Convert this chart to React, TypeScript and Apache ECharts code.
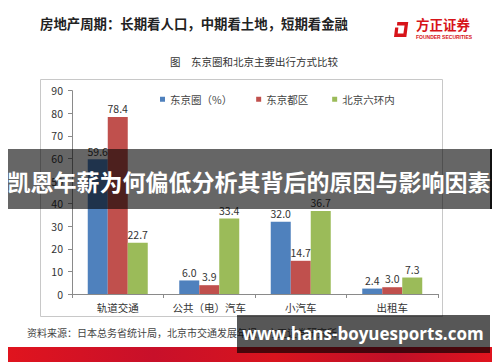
import React, { useEffect, useRef } from "react";
import * as echarts from "echarts";

const categories = ["轨道交通", "公共（电）汽车", "小汽车", "出租车"];
const seriesNames = ["东京圈（%）", "东京都区", "北京六环内"];
const tokyoMetro = [59.6, 6.0, 32.0, 2.4];
const tokyoWards = [78.4, 3.9, 14.7, 3.0];
const beijingRing6 = [22.7, 33.4, 36.7, 7.3];
const yMin = 0;
const yMax = 90;
const yInterval = 10;

const pageTitle = "房地产周期：长期看人口，中期看土地，短期看金融";
const chartTitle = "图　东京圈和北京主要出行方式比较";
const sourceText = "资料来源：日本总务省统计局，北京市交通发展年报，方正证券研究所";
const bannerText = "凯恩年薪为何偏低分析其背后的原因与影响因素";
const urlText = "www.hans-boyuesports.com";
const logoText = "方正证券";
const logoSub = "FOUNDER SECURITIES";

const colors = ["#4F81BD", "#C0504D", "#9BBB59"];
const CJK = "'Noto Sans CJK SC', 'Noto Sans', sans-serif";

const logoPath =
  "M3.5 0 L15 0 L13 15 L0 15 L1.2 5.5 L4.6 5.5 L3.9 11.4 L9.9 11.4 L11.1 3.4 L3.1 3.4 Z";

let registered = false;

export default function App() {
  const ref = useRef<HTMLDivElement>(null);
  useEffect(() => {
    if (!ref.current) return;
    if (!registered) {
      echarts.graphic.registerShape("logo", echarts.graphic.extendPath(logoPath, {}));
      registered = true;
    }
    const chart = echarts.init(ref.current, null, { renderer: "svg" });
    const data = [tokyoMetro, tokyoWards, beijingRing6];
    chart.setOption({
      animation: false,
      backgroundColor: "#ffffff",
      textStyle: { fontFamily: CJK },
      grid: { left: 72, right: 62, top: 90.7, bottom: 68 },
      legend: {
        left: 155,
        top: 89,
        itemWidth: 5,
        itemHeight: 5,
        itemGap: 24,
        icon: "rect",
        textStyle: { fontSize: 10.5, color: "#444", fontFamily: CJK },
        data: seriesNames,
      },
      xAxis: {
        type: "category",
        data: categories,
        axisLine: { lineStyle: { color: "#8a8a8a" } },
        axisTick: { show: true, length: 4, lineStyle: { color: "#8a8a8a" } },
        axisLabel: { interval: 0, fontSize: 10.5, color: "#333", margin: 8, fontFamily: CJK },
      },
      yAxis: {
        type: "value",
        min: yMin,
        max: yMax,
        interval: yInterval,
        splitLine: { show: false },
        axisLine: { show: true, lineStyle: { color: "#8a8a8a" } },
        axisTick: { show: true, length: 4, lineStyle: { color: "#8a8a8a" } },
        axisLabel: { fontSize: 10.5, color: "#333", margin: 9, fontFamily: CJK },
      },
      series: seriesNames.map((name, i) => ({
        name,
        type: "bar",
        data: data[i],
        barWidth: 20,
        barGap: "0%",
        itemStyle: { color: colors[i] },
        label: {
          show: true,
          position: "top",
          distance: 3,
          fontSize: 10.5,
          color: "#333",
          fontFamily: CJK,
          formatter: (p: any) => Number(p.value).toFixed(1),
        },
      })),
      graphic: [
        {
          type: "text",
          left: 40,
          top: 16,
          z: 10,
          style: { text: pageTitle, fontSize: 13.4, fontWeight: "bold", fill: "#222", fontFamily: CJK },
        },
        {
          type: "logo",
          x: 394,
          y: 22,
          scaleX: 0.95,
          scaleY: 1,
          z: 10,
          style: { fill: "#D7141A" },
        },
        {
          type: "text",
          left: 416,
          top: 17,
          z: 10,
          style: { text: logoText, fontSize: 13.5, fontWeight: "bold", fill: "#D7141A", fontFamily: CJK },
        },
        {
          type: "text",
          left: 416,
          top: 34,
          z: 10,
          style: { text: logoSub, fontSize: 5, fontWeight: "bold", fill: "#D7141A", fontFamily: "'Liberation Sans', sans-serif" },
        },
        {
          type: "text",
          left: 170,
          top: 56,
          z: 10,
          style: { text: chartTitle, fontSize: 10.5, fill: "#333", fontFamily: CJK },
        },
        {
          type: "rect",
          z: -1,
          shape: { x: 40.5, y: 79.5, width: 402, height: 237 },
          style: { fill: "none", stroke: "#c8c8c8", lineWidth: 1 },
        },
        {
          type: "text",
          left: 27,
          top: 327,
          z: 10,
          style: { text: sourceText, fontSize: 10, fill: "#444", fontFamily: CJK },
        },
        {
          type: "rect",
          z: 20,
          shape: { x: 8, y: 347, width: 484, height: 15 },
          style: {
            fill: new echarts.graphic.LinearGradient(0, 0, 1, 0, [
              { offset: 0, color: "#E0141E" },
              { offset: 0.3, color: "#C8102A" },
              { offset: 0.55, color: "#D8141E" },
              { offset: 0.8, color: "#C01028" },
              { offset: 1, color: "#E0141E" },
            ]),
          },
        },
        {
          type: "rect",
          z: 100,
          shape: { x: 8, y: 149, width: 482, height: 60 },
          style: { fill: "rgba(0,0,0,0.6)" },
        },
        {
          type: "rect",
          z: 100,
          shape: { x: 490, y: 149, width: 2, height: 60 },
          style: { fill: "#111" },
        },
        {
          type: "text",
          x: 249,
          y: 181,
          z: 101,
          style: {
            text: bannerText,
            fontSize: 23,
            fontWeight: "bold",
            fill: "#ffffff",
            align: "center",
            verticalAlign: "middle",
            fontFamily: CJK,
          },
        },
        {
          type: "rect",
          z: 100,
          shape: { x: 237, y: 315, width: 253, height: 38 },
          style: { fill: "rgba(0,0,0,0.66)" },
        },
        {
          type: "text",
          x: 363,
          y: 333,
          z: 101,
          style: {
            text: urlText,
            fontSize: 17,
            fontWeight: "bold",
            fill: "#ffffff",
            align: "center",
            verticalAlign: "middle",
            fontFamily: "'Open Sans', 'DejaVu Sans', sans-serif",
          },
        },
      ],
    });
    return () => chart.dispose();
  }, []);
  return (
    <div
      ref={ref}
      style={{ position: "fixed", left: 0, top: 0, width: 500, height: 362, background: "#fff" }}
    />
  );
}
